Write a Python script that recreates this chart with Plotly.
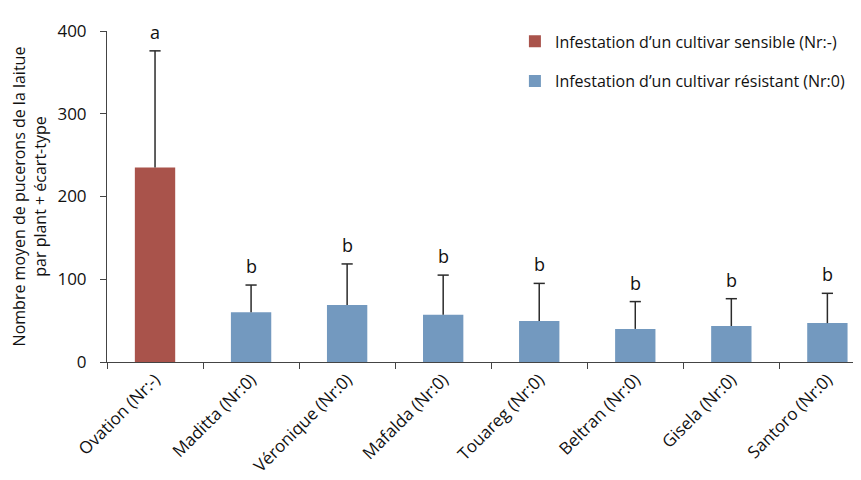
import plotly.graph_objects as go

categories = ["Ovation (Nr:-)", "Maditta (Nr:0)", "Véronique (Nr:0)", "Mafalda (Nr:0)",
              "Touareg (Nr:0)", "Beltran (Nr:0)", "Gisela (Nr:0)", "Santoro (Nr:0)"]
means = [235, 60, 69, 57, 49.5, 40, 43.5, 47]
sds = [141, 33, 49.5, 48, 45.5, 33, 33, 36]
letters = ["a", "b", "b", "b", "b", "b", "b", "b"]
series_names = ["Infestation d’un cultivar sensible (Nr:-)",
                "Infestation d’un cultivar résistant (Nr:0)"]
y_ticks = [0, 100, 200, 300, 400]

RED = "#A9534B"
BLUE = "#7399BF"
ERR = "#2b2b2b"
FONT = "Open Sans"

fig = go.Figure()
fig.add_trace(go.Bar(
    x=categories[:1], y=means[:1], name=series_names[0],
    marker=dict(color=RED, line=dict(width=0)), width=0.42,
    legendgroup="g1", hoverinfo="skip",
))
fig.add_trace(go.Bar(
    x=categories[1:], y=means[1:], name=series_names[1],
    marker=dict(color=BLUE, line=dict(width=0)), width=0.42,
    legendgroup="g2", hoverinfo="skip",
))

# upward-only error bars (stem + top cap)
ex, ey = [], []
for c, m, s in zip(categories, means, sds):
    ex += [c, c, None]
    ey += [m, m + s, None]
fig.add_trace(go.Scatter(x=ex, y=ey, mode="lines", line=dict(color=ERR, width=1.5),
                         showlegend=False, hoverinfo="skip", cliponaxis=False))
fig.add_trace(go.Scatter(x=categories, y=[m + s for m, s in zip(means, sds)], mode="markers",
                         marker=dict(symbol="line-ew", size=8, line=dict(color=ERR, width=1.5)),
                         showlegend=False, hoverinfo="skip", cliponaxis=False))

for c, m, s, l in zip(categories, means, sds, letters):
    fig.add_annotation(x=c, y=m + s, text=l, showarrow=False, yshift=19,
                       font=dict(family=FONT, size=18, color="#111111"))

fig.update_layout(
    width=853, height=472,
    margin=dict(l=99, r=0, t=23, b=118),
    paper_bgcolor="white", plot_bgcolor="white",
    barmode="overlay",
    font=dict(family=FONT, size=15, color="#111111"),
    showlegend=True,
    legend=dict(x=0.541, y=1.02, xanchor="left", yanchor="top",
                font=dict(family=FONT, size=16, color="#111111"),
                tracegroupgap=16, bgcolor="rgba(0,0,0,0)"),
    xaxis=dict(
        type="category", categoryorder="array", categoryarray=categories,
        range=[-0.5, 7.35], automargin=False,
        showline=True, linecolor="#444444", linewidth=1,
        ticks="outside", tickson="boundaries", ticklen=6, tickcolor="#444444",
        tickangle=-45, showgrid=False,
        tickfont=dict(family=FONT, size=17, color="#111111"),
    ),
    yaxis=dict(
        range=[0, 400], tickvals=y_ticks, automargin=False,
        showline=True, linecolor="#444444", linewidth=1,
        ticks="outside", ticklen=6, tickcolor="#444444",
        ticklabelstandoff=10,
        showgrid=False, zeroline=False,
        tickfont=dict(family=FONT, size=17, color="#111111"),
        title=dict(text="Nombre moyen de pucerons de la laitue<br>par plant + écart-type",
                   font=dict(family=FONT, size=16, color="#111111"), standoff=10),
    ),
)

fig.write_html("out.html")
